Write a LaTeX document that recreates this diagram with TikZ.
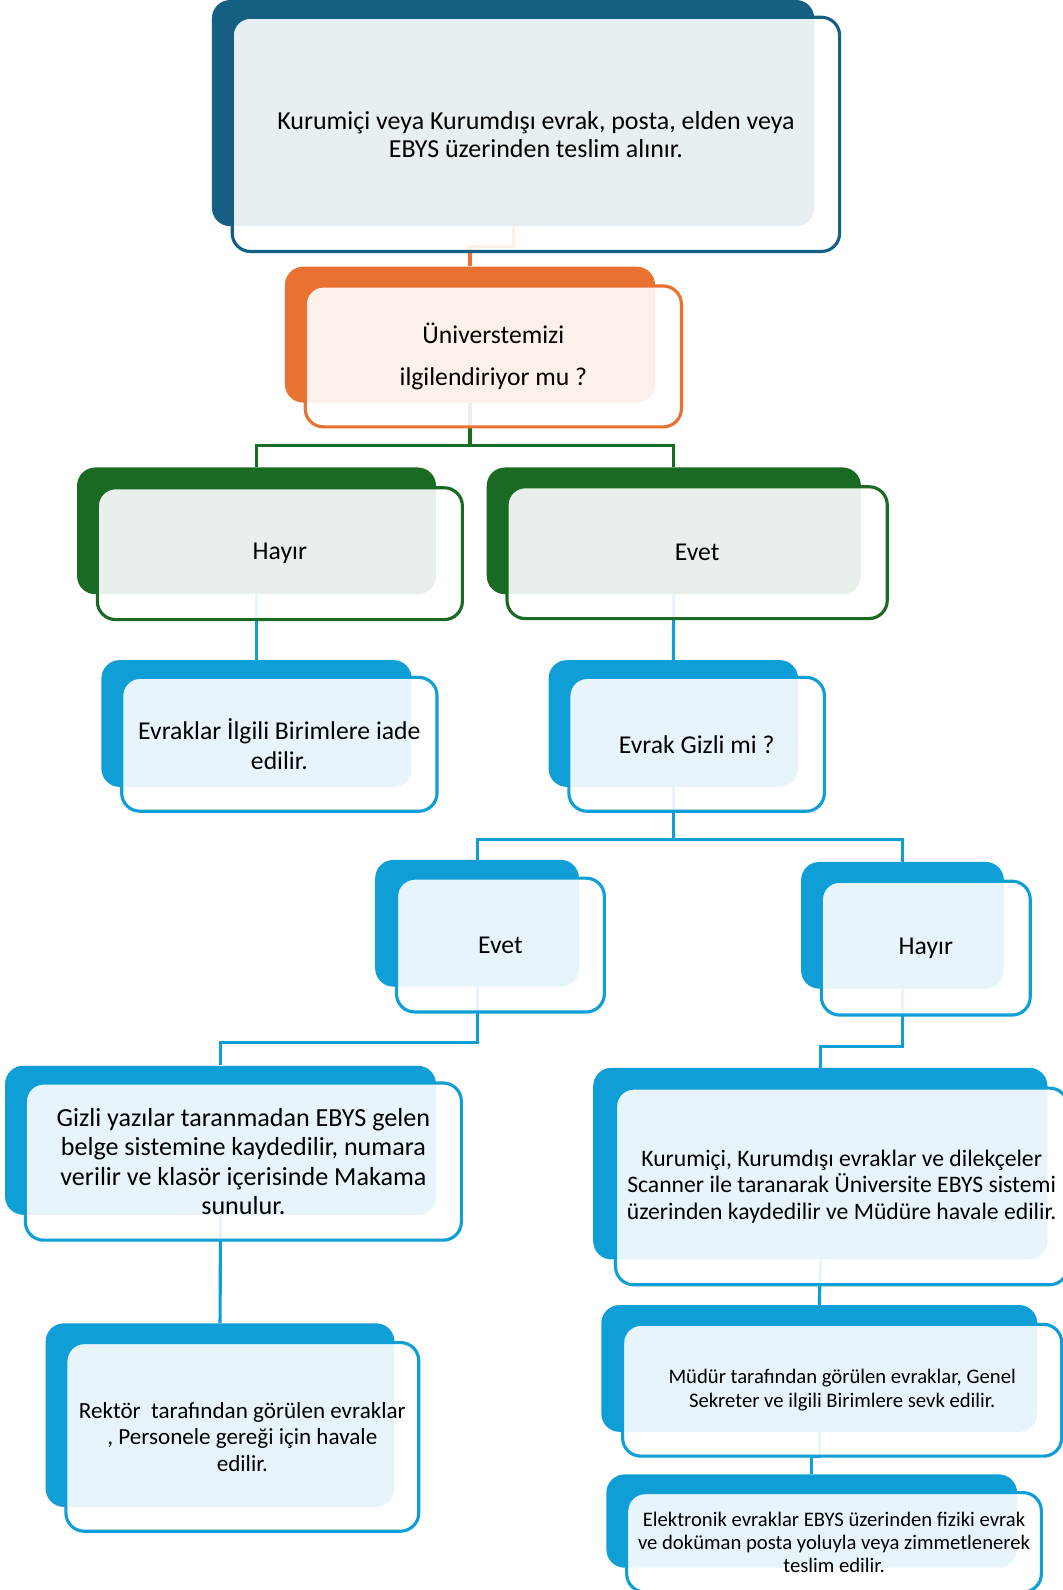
\documentclass[tikz,border=0pt]{standalone}
\usepackage{fontspec}
\setmainfont{Carlito}

\definecolor{koyumavi}{HTML}{156082}
\definecolor{turuncu}{HTML}{E97132}
\definecolor{yesil}{HTML}{196B24}
\definecolor{acikmavi}{HTML}{0F9ED5}

\begin{document}
\begin{tikzpicture}[x=0.025cm, y=-0.025cm,
        arka/.style={fill=#1, rounded corners=0.45cm, inner sep=0pt},
        kutu/.style={draw=#1, line width=2.2pt, rounded corners=0.45cm, fill=white,
            fill opacity=0.9, text opacity=1, align=center, inner sep=0pt},
        olcu/.style 2 args={minimum width=#1*0.025cm, minimum height=#2*0.025cm},
        yazi/.style 2 args={font=\fontsize{#1}{#2}\selectfont},
        baglanti/.style={draw=#1, line width=2.2pt}]

        \useasboundingbox (0,0) rectangle (1048,1568);
        \fill[white] (0,0) rectangle (1048,1568);

        % Arka kutular
        \node[arka=koyumavi, olcu={594}{223}] (a-gelen) at (506,111.5) {};
        \node[arka=turuncu, olcu={365}{134}] (a-ilgi) at (463.5,330) {};
        \node[arka=yesil, olcu={354}{125}] (a-hayir) at (253,523.5) {};
        \node[arka=yesil, olcu={369}{125}] (a-evet) at (664.5,523.5) {};
        \node[arka=acikmavi, olcu={306}{125}] (a-iade) at (253,713.5) {};
        \node[arka=acikmavi, olcu={246}{125}] (a-gizli) at (664,713.5) {};
        \node[arka=acikmavi, olcu={201}{125}] (a-gevet) at (470.5,910.5) {};
        \node[arka=acikmavi, olcu={200}{125}] (a-ghayir) at (890,912.5) {};
        \node[arka=acikmavi, olcu={425}{147}] (a-gizliyazi) at (217.5,1124.5) {};
        \node[arka=acikmavi, olcu={448}{189}] (a-tarama) at (809,1147.5) {};
        \node[arka=acikmavi, olcu={430}{125}] (a-mudur) at (808,1349.5) {};
        \node[arka=acikmavi, olcu={405}{92}] (a-elektronik) at (800.5,1500) {};
        \node[arka=acikmavi, olcu={344}{181}] (a-rektor) at (217,1395.5) {};

        % Baglantilar
        \draw[baglanti=turuncu] (a-gelen.south) -- ++(0,20) -| (a-ilgi.north);
        \draw[baglanti=yesil] (a-ilgi.south) -- ++(0,42) -| (a-hayir.north);
        \draw[baglanti=yesil] (a-ilgi.south) -- ++(0,42) -| (a-evet.north);
        \draw[baglanti=acikmavi] (a-hayir.south) -- (a-iade.north);
        \draw[baglanti=acikmavi] (a-evet.south) -- (a-gizli.north);
        \draw[baglanti=acikmavi] (a-gizli.south) -- ++(0,52) -| (a-gevet.north);
        \draw[baglanti=acikmavi] (a-gizli.south) -- ++(0,52) -| (a-ghayir.north);
        \draw[baglanti=acikmavi] (a-gevet.south) -- ++(0,55) -| (a-gizliyazi.north);
        \draw[baglanti=acikmavi] (a-ghayir.south) -- ++(0,57) -| (a-tarama.north);
        \draw[baglanti=acikmavi] (a-gizliyazi.south) -- (a-rektor.north);
        \draw[baglanti=acikmavi] (a-tarama.south) -- (a-mudur.north);
        \draw[baglanti=acikmavi] (a-mudur.south) -- ++(0,24) -| (a-elektronik.north);

        % On kutular
        \node[kutu=koyumavi, olcu={599}{231}, yazi={18.2}{19.9}] (gelen) at (528.5,132.5)
            {Kurumiçi veya Kurumdışı evrak, posta, elden veya\\EBYS üzerinden teslim alınır.};
        \node[kutu=turuncu, olcu={371}{139}, yazi={18}{29.2}] (ilgi) at (486.5,351.5)
            {Üniverstemizi\\ilgilendiriyor mu ?};
        \node[kutu=yesil, olcu={360}{130}, yazi={18}{19.9}] (hayir) at (276,546) {Hayır};
        \node[kutu=yesil, olcu={375}{130}, yazi={18}{19.9}] (evet) at (687.5,545) {Evet};
        \node[kutu=acikmavi, olcu={311}{132}, yazi={18}{20.6}] (iade) at (275.5,734)
            {Evraklar İlgili Birimlere iade\\edilir.};
        \node[kutu=acikmavi, olcu={252}{132}, yazi={18}{20.6}] (gizli) at (687,734)
            {Evrak Gizli mi ?};
        \node[kutu=acikmavi, olcu={205}{132}, yazi={18}{20.6}] (gevet) at (493.5,932) {Evet};
        \node[kutu=acikmavi, olcu={206}{132}, yazi={18}{20.6}] (ghayir) at (913,935) {Hayır};
        \node[kutu=acikmavi, olcu={430}{155}, yazi={18.3}{20.6}] (gizliyazi) at (240,1145.5)
            {Gizli yazılar taranmadan EBYS gelen\\belge sistemine kaydedilir, numara\\verilir ve klasör içerisinde Makama\\sunulur.};
        \node[kutu=acikmavi, olcu={446}{194}, yazi={16.6}{18.5}] (tarama) at (830,1170)
            {Kurumiçi, Kurumdışı evraklar ve dilekçeler\\Scanner ile taranarak Üniversite EBYS sistemi\\üzerinden kaydedilir ve Müdüre havale edilir.};
        \node[kutu=acikmavi, olcu={433}{130}, yazi={14.5}{16.4}] (mudur) at (830.5,1371)
            {Müdür tarafından görülen evraklar, Genel\\Sekreter ve ilgili Birimlere sevk edilir.};
        \node[kutu=acikmavi, olcu={409}{98}, yazi={14.5}{16.4}] (elektronik) at (822.5,1521)
            {Elektronik evraklar EBYS üzerinden fiziki evrak\\ve doküman posta yoluyla veya zimmetlenerek\\teslim edilir.};
        \node[kutu=acikmavi, olcu={348}{186}, yazi={16.2}{18.5}] (rektor) at (239,1417)
            {Rektör\ \ tarafından görülen evraklar\\, Personele gereği için havale\\edilir.};
    \end{tikzpicture}
\end{document}
